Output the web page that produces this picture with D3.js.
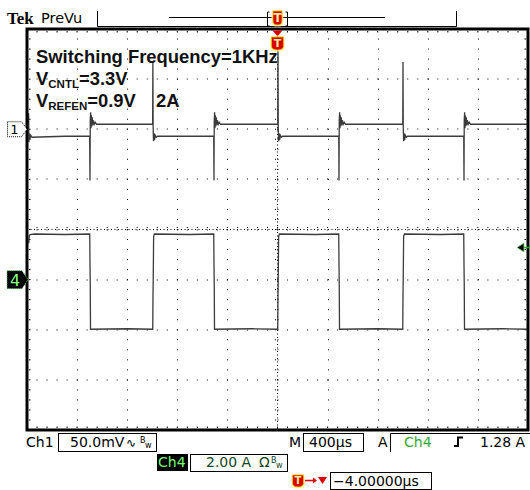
<!DOCTYPE html>
<html><head><meta charset="utf-8">
<script src="https://cdn.jsdelivr.net/npm/d3@7"></script>
<style>body{margin:0;background:#fff}svg{display:block}</style>
</head><body>
<script>
// scope settings
const timeDivs = [-2000, -1600, -1200, -800, -400, 0, 400, 800, 1200, 1600, 2000]   // us, 400us/div
const ch1Divs = [-300, -250, -200, -150, -100, -50, 0, 50, 100]                   // mV, 50mV/div, ground 2 div up
const ch1Domain = [-300, 100]
const ch4Domain = [-6, 10]                                                         // A, 2A/div, ground 1 div down
const trigLevel = 1.28

// Ch1 trace [time us, mV]
const ch1Trace = [
  [-2000, 4], [-1990, 5], [-1987, 16], [-1985, -13], [-1981, -4], [-1977, -10], [-1970, -6], [-1960, -8],
  [-1700, -7], [-1500, -7],
  [-1497, -51], [-1495, 9], [-1492, 17], [-1489, 1], [-1486, 14], [-1483, 3], [-1479, 12], [-1475, 4], [-1470, 9], [-1463, 5], [-1455, 7], [-1445, 5],
  [-1200, 5], [-997, 5],
  [-995, 66], [-993, 2], [-990, -12], [-986, -4], [-982, -11], [-976, -6], [-968, -8], [-958, -7],
  [-700, -7], [-509, -7],
  [-507, -51], [-505, 9], [-502, 17], [-499, 1], [-496, 14], [-493, 3], [-489, 12], [-485, 4], [-480, 9], [-473, 5], [-465, 7], [-455, 5],
  [-200, 5], [2, 5],
  [4, 78], [6, 2], [9, -12], [13, -4], [17, -11], [23, -6], [31, -8], [41, -7],
  [300, -7], [489, -7],
  [491, -51], [493, 9], [496, 17], [499, 1], [502, 14], [505, 3], [509, 12], [513, 4], [518, 9], [525, 5], [533, 7], [543, 5],
  [800, 5], [1000, 5],
  [1002, 67], [1004, 2], [1007, -12], [1011, -4], [1015, -11], [1021, -6], [1029, -8], [1039, -7],
  [1300, -7], [1487, -7],
  [1489, -51], [1491, 9], [1494, 17], [1497, 1], [1500, 14], [1503, 3], [1507, 12], [1511, 4], [1516, 9], [1523, 5], [1531, 7], [1541, 5],
  [1800, 5], [2000, 5]
]

// Ch4 trace [time us, A]
const ch4Trace = [
  [-1986, 1.45], [-1982, 1.72], [-1976, 1.8], [-1940, 1.82], [-1700, 1.80], [-1499, 1.82],
  [-1497, 0.6], [-1495, -0.2], [-1493, -1.98], [-1200, -1.96], [-996, -1.98],
  [-994, -0.6], [-992, 0.1], [-989, 1.72], [-983, 1.82], [-700, 1.80], [-509, 1.82],
  [-507, 0.6], [-505, -0.2], [-503, -1.98], [-200, -1.96], [2, -1.98],
  [4, -0.6], [6, 0.1], [9, 1.72], [15, 1.82], [300, 1.80], [489, 1.82],
  [491, 0.6], [493, -0.2], [495, -1.98], [800, -1.96], [1000, -1.98],
  [1002, -0.6], [1004, 0.1], [1007, 1.72], [1013, 1.82], [1300, 1.80], [1487, 1.82],
  [1489, 0.6], [1491, -0.2], [1493, -1.98], [1800, -1.96], [2000, -1.98]
]

let width = 530
let height = 490

let fL = 27, fR = 528, fT = 29, fB = 430

let x = d3.scaleLinear().domain([-2000, 2000]).range([fL, fR])
let y1 = d3.scaleLinear().domain(ch1Domain).range([fB, fT])
let y4 = d3.scaleLinear().domain(ch4Domain).range([fB, fT])

let svg = d3.select("body").append("svg")
.attr("width", width)
.attr("height", height)
.style("font-family", "'DejaVu Sans', sans-serif")

svg.append("rect").attr("width", width).attr("height", height).attr("fill", "#fff")

// graticule
let grid = svg.append("g")
let xMid = x(0), yMid = y1(-100)

timeDivs.slice(1, -1).forEach(t => {
	if (t === 0) return
	let px = Math.round(x(t)) + 0.5
	for (let k = 1; k < 40; k++) {
		let py = fT + k * (fB - fT) / 40
		grid.append("rect").attr("x", px - 0.5).attr("y", py - 0.5).attr("width", 1).attr("height", 1).attr("fill", "#000")
	}
})
ch1Divs.slice(1, -1).forEach(v => {
	if (v === -100) return
	let py = Math.round(y1(v))
	for (let k = 1; k < 50; k++) {
		let px = fL + k * (fR - fL) / 50
		grid.append("rect").attr("x", px - 0.5).attr("y", py - 0.5).attr("width", 1).attr("height", 1).attr("fill", "#000")
	}
})

// center crosshair with minor ticks
grid.append("line").attr("x1", fL).attr("x2", fR).attr("y1", yMid).attr("y2", yMid)
.attr("stroke", "#000").attr("stroke-dasharray", "1,2.5")
grid.append("line").attr("x1", xMid).attr("x2", xMid).attr("y1", fT).attr("y2", fB)
.attr("stroke", "#000").attr("stroke-dasharray", "1,2.5")
for (let k = 1; k < 50; k++) {
	let px = fL + k * (fR - fL) / 50
	grid.append("line").attr("x1", px).attr("x2", px).attr("y1", yMid - 2.5).attr("y2", yMid + 2.5).attr("stroke", "#000").attr("stroke-dasharray", "1,1.5")
	grid.append("rect").attr("x", px - 0.5).attr("y", fT + 2).attr("width", 1).attr("height", 1.5).attr("fill", "#000")
	grid.append("rect").attr("x", px - 0.5).attr("y", fB - 3.5).attr("width", 1).attr("height", 1.5).attr("fill", "#000")
}
for (let k = 1; k < 40; k++) {
	let py = fT + k * (fB - fT) / 40
	grid.append("line").attr("x1", xMid - 2.5).attr("x2", xMid + 2.5).attr("y1", py).attr("y2", py).attr("stroke", "#000").attr("stroke-dasharray", "1,1.5")
	grid.append("rect").attr("x", fL + 2).attr("y", py - 0.5).attr("width", 1.5).attr("height", 1).attr("fill", "#000")
	grid.append("rect").attr("x", fR - 3.5).attr("y", py - 0.5).attr("width", 1.5).attr("height", 1).attr("fill", "#000")
}

// traces
svg.append("clipPath").attr("id", "scr").append("rect")
.attr("x", fL).attr("y", fT).attr("width", fR - fL).attr("height", fB - fT)

let line1 = d3.line().x(d => x(d[0])).y(d => y1(d[1]))
let line4 = d3.line().x(d => x(d[0])).y(d => y4(d[1]))

svg.append("path").attr("clip-path", "url(#scr)")
.attr("d", line1(ch1Trace))
.attr("fill", "none").attr("stroke", "#3c3c3c").attr("stroke-width", 1.3)

svg.append("path").attr("clip-path", "url(#scr)")
.attr("d", line4(ch4Trace))
.attr("fill", "none").attr("stroke", "#3c3c3c").attr("stroke-width", 1.3)

// frame
svg.append("path")
.attr("d", `M${fL},${fT}H${fR}V${fB}H${fL}Z`)
.attr("fill", "none").attr("stroke", "#000").attr("stroke-width", 3)

// annotation
let note = svg.append("g").style("font-family", "'Liberation Sans', Arial, sans-serif").style("font-weight", "bold").attr("fill", "#111")
note.append("text").attr("x", 36).attr("y", 63).style("font-size", "18.4px").text("Switching Frequency=1KHz")
let n2 = note.append("text").attr("x", 36).attr("y", 85).style("font-size", "18.4px")
n2.append("tspan").text("V")
n2.append("tspan").attr("dy", 3).style("font-size", "11.5px").text("CNTL")
n2.append("tspan").attr("dy", -3).text("=3.3V")
let n3 = note.append("text").attr("x", 36).attr("y", 107).style("font-size", "18.4px")
n3.append("tspan").text("V")
n3.append("tspan").attr("dy", 3).style("font-size", "11.5px").text("REFEN")
n3.append("tspan").attr("dy", -3).text("=0.9V")
note.append("text").attr("x", 156).attr("y", 107).style("font-size", "18.4px").text("2A")

// channel markers
let g1 = svg.append("g").attr("transform", `translate(0,${y1(0)})`)
g1.append("path").attr("d", "M7.5,-7.5H21.5L27,0L21.5,7.5H7.5Z")
.attr("fill", "#fff").attr("stroke", "#000").attr("stroke-dasharray", "1,1")
g1.append("text").attr("x", 14.5).attr("y", 5).attr("text-anchor", "middle").style("font-size", "13px").text("1")

let g4 = svg.append("g").attr("transform", `translate(0,${y4(0)})`)
g4.append("path").attr("d", "M7,-9H22L28,0L22,9H7Z")
.attr("fill", "#000").attr("stroke", "#6c6").attr("stroke-dasharray", "1,1")
g4.append("text").attr("x", 15).attr("y", 6).attr("text-anchor", "middle").style("font-size", "16px").attr("fill", "#8f8").text("4")

// trigger level marker
let gl = svg.append("g").attr("transform", `translate(0,${y4(trigLevel)})`)
gl.append("line").attr("x1", 522).attr("x2", 530).attr("stroke", "#2a2").attr("stroke-width", 1.5)
gl.append("path").attr("d", "M517,0L524,-4.5V4.5Z").attr("fill", "#000").attr("stroke", "#7d7").attr("stroke-width", 0.8)

// trigger position icons
const drawT = (g, cx, cy, w, h) => {
	g.append("rect").attr("x", cx - w / 2 - 1.5).attr("y", cy - 1.5).attr("width", w + 3).attr("height", h + 3)
	.attr("rx", 4).attr("fill", "#fff3a0").attr("opacity", 0.8)
	g.append("path")
	.attr("d", `M${cx - w / 2},${cy}H${cx + w / 2}V${cy + h - 4}Q${cx + w / 2},${cy + h} ${cx},${cy + h}Q${cx - w / 2},${cy + h} ${cx - w / 2},${cy + h - 4}Z`)
	.attr("fill", "#d80000").attr("stroke", "#e8c000").attr("stroke-width", 0.8)
	g.append("text").attr("x", cx).attr("y", cy + h - 3).attr("text-anchor", "middle")
	.style("font-size", (h - 2) + "px").style("font-weight", "bold").attr("fill", "#ffe9a0").text("T")
}

let trig = svg.append("g")
trig.append("path").attr("d", `M${xMid - 5},30.5H${xMid + 5}L${xMid},36.5Z`).attr("fill", "#d80000")
drawT(trig, xMid, 37, 12, 13)

// header
svg.append("text").attr("x", 7).attr("y", 24).style("font-family", "'Liberation Serif', serif").style("font-weight", "bold").style("font-size", "17px").text("Tek")
svg.append("text").attr("x", 41).attr("y", 23).style("font-size", "14.5px").text("PreVu")
svg.append("path").attr("d", "M97.5,11V26.5H456.5V11").attr("fill", "none").attr("stroke", "#000")
svg.append("line").attr("x1", 169).attr("x2", 385).attr("y1", 17.5).attr("y2", 17.5).attr("stroke", "#000")
svg.append("path").attr("d", "M269.5,12H267.5V26H269.5M285.5,12H287.5V26H285.5").attr("fill", "none").attr("stroke", "#000")
drawT(svg.append("g"), xMid, 11, 9, 14)

// readouts
let ro = svg.append("g").style("font-size", "14px")
const box = (x0, y0, w, h) => ro.append("rect").attr("x", x0 + 0.5).attr("y", y0 + 0.5).attr("width", w).attr("height", h).attr("fill", "none").attr("stroke", "#000")

ro.append("text").attr("x", 26).attr("y", 447).text("Ch1")
box(58, 433, 98, 18)
ro.append("text").attr("x", 70).attr("y", 447).text("50.0mV")
ro.append("text").attr("x", 126).attr("y", 447).style("font-size", "12px").text("∿")
ro.append("text").attr("x", 140).attr("y", 443).style("font-size", "8px").text("B")
ro.append("text").attr("x", 145).attr("y", 448).style("font-size", "8px").text("w")

ro.append("text").attr("x", 289).attr("y", 447).text("M")
box(303, 433, 60, 18)
ro.append("text").attr("x", 309).attr("y", 447).text("400µs")

ro.append("text").attr("x", 378).attr("y", 447).text("A")
ro.append("path").attr("d", "M390.5,452V433.5H530").attr("fill", "none").attr("stroke", "#000")
ro.append("text").attr("x", 404).attr("y", 447).attr("fill", "#3a3").text("Ch4")
ro.append("path").attr("d", "M454,446H458V437.5H463").attr("fill", "none").attr("stroke", "#000").attr("stroke-width", 2)
ro.append("text").attr("x", 480).attr("y", 447).text("1.28 A")

ro.append("rect").attr("x", 157).attr("y", 454).attr("width", 31).attr("height", 17).attr("fill", "#000")
ro.append("text").attr("x", 158).attr("y", 467).attr("fill", "#7f7").text("Ch4")
box(190, 454, 97, 17)
ro.append("text").attr("x", 206).attr("y", 467).attr("fill", "#142").text("2.00 A")
ro.append("text").attr("x", 259).attr("y", 467).attr("fill", "#142").text("Ω")
ro.append("text").attr("x", 271).attr("y", 463).style("font-size", "8px").attr("fill", "#142").text("B")
ro.append("text").attr("x", 276).attr("y", 468).style("font-size", "8px").attr("fill", "#142").text("w")

drawT(ro, 298, 475, 11, 12)
ro.append("path").attr("d", "M305,480.5H315").attr("stroke", "#d00").attr("stroke-width", 1.5)
ro.append("path").attr("d", "M313,477.5L317,480.5L313,483.5Z").attr("fill", "#d00")
ro.append("path").attr("d", "M318,477H327L322.5,484Z").attr("fill", "#d00")
box(330, 472, 101, 17)
ro.append("text").attr("x", 333).attr("y", 486).text("−4.00000µs")
</script>
</body></html>
